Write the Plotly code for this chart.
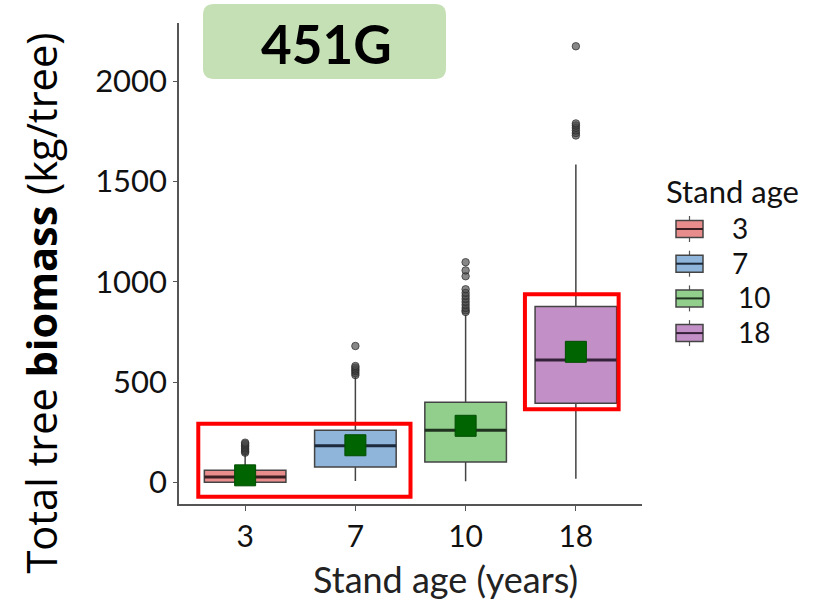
import plotly.graph_objects as go

# Stand ages and per-group box statistics (kg/tree)
categories = ["3", "7", "10", "18"]
q1 = [0, 77, 101, 394]
median = [27, 182, 260, 610]
q3 = [60, 260, 400, 877]
lower_fence = [0, 7, 5, 18]
upper_fence = [140, 525, 835, 1585]
means = [35, 185, 282, 651]
outliers = [
    [148, 155, 162, 170, 178, 185, 192, 198],
    [535, 545, 555, 563, 572, 580, 680],
    [850, 858, 870, 885, 900, 915, 930, 945, 963, 1028, 1057, 1098],
    [1730, 1742, 1755, 1768, 1780, 1790, 2175],
]
fills = ["#e88c8c", "#8fb5da", "#92cf8d", "#c290c7"]
median_colors = ["#3a1f22", "#1d2a3c", "#1f321f", "#35203a"]

# Highlighted groups: (x0, x1, y0, y1) in axis units
highlights = [(-0.425, 1.50, -72, 292), (2.538, 3.388, 364, 938)]

BOX_W = 0.74
pos = list(range(len(categories)))

fig = go.Figure()

for i, cat in enumerate(categories):
    fig.add_trace(go.Box(
        x=[pos[i]], q1=[q1[i]], median=[median[i]], q3=[q3[i]],
        lowerfence=[lower_fence[i]], upperfence=[upper_fence[i]],
        name=cat, width=BOX_W, whiskerwidth=0, boxpoints=False,
        fillcolor=fills[i], line=dict(color="#444444", width=1.5),
        showlegend=False,
    ))

# thicker median bars
for i in pos:
    fig.add_trace(go.Scatter(
        x=[pos[i] - BOX_W / 2, pos[i] + BOX_W / 2], y=[median[i], median[i]],
        mode="lines", line=dict(color=median_colors[i], width=3),
        showlegend=False, hoverinfo="skip",
    ))

# outlying trees
for i in pos:
    fig.add_trace(go.Scatter(
        x=[pos[i]] * len(outliers[i]), y=outliers[i], mode="markers",
        marker=dict(size=7.5, color="rgba(70,70,70,0.65)",
                    line=dict(color="rgba(40,40,40,0.7)", width=1)),
        showlegend=False, hoverinfo="skip",
    ))

# group means
fig.add_trace(go.Scatter(
    x=pos, y=means, mode="markers",
    marker=dict(symbol="square", size=21, color="#006400",
                line=dict(color="#004d00", width=1)),
    showlegend=False,
))

for x0, x1, y0, y1 in highlights:
    fig.add_shape(type="rect", xref="x", yref="y", x0=x0, x1=x1, y0=y0, y1=y1,
                  line=dict(color="#ff0000", width=4), layer="above")

# pixel -> paper helpers for decorations outside the data area
L, T, W, H = 179, 23, 463, 481
def px(x):
    return (x - L) / W
def py(y):
    return (T + H - y) / H

# rounded label panel above the plot
bx0, bx1, by0, by1 = 203, 446, 4, 79
r = 11
path = (f"M {px(bx0 + r)} {py(by0)} L {px(bx1 - r)} {py(by0)} "
        f"Q {px(bx1)} {py(by0)} {px(bx1)} {py(by0 + r)} "
        f"L {px(bx1)} {py(by1 - r)} Q {px(bx1)} {py(by1)} {px(bx1 - r)} {py(by1)} "
        f"L {px(bx0 + r)} {py(by1)} Q {px(bx0)} {py(by1)} {px(bx0)} {py(by1 - r)} "
        f"L {px(bx0)} {py(by0 + r)} Q {px(bx0)} {py(by0)} {px(bx0 + r)} {py(by0)} Z")
fig.add_shape(type="path", xref="paper", yref="paper", path=path,
              fillcolor="#c5e0b4", line=dict(width=0), layer="above")
fig.add_annotation(xref="paper", yref="paper", x=px(326), y=py(43),
                   xanchor="center", yanchor="middle",
                   text="<b>451G</b>", showarrow=False,
                   font=dict(family="Lato", size=53, color="#000000"))

# axis titles
fig.add_annotation(xref="paper", yref="paper", x=px(445), y=py(579),
                   xanchor="center", yanchor="middle",
                   text="Stand age (years)", showarrow=False,
                   font=dict(family="Lato", size=36, color="#222222"))
fig.add_annotation(xref="paper", yref="paper", x=px(40), y=py(303.5),
                   xanchor="center", yanchor="middle",
                   text="Total tree <b>biomass</b> (kg/tree)", textangle=-90,
                   showarrow=False,
                   font=dict(family="Open Sans", size=41.5, color="#000000"))

# legend: box keys with labels
fig.add_annotation(xref="paper", yref="paper", x=px(664), y=py(191),
                   xanchor="left", yanchor="middle", text="Stand age",
                   showarrow=False,
                   font=dict(family="Lato", size=31, color="#111111"))
key_x0, key_x1 = 676, 703
key_xc = (key_x0 + key_x1) / 2
for i, cat in enumerate(categories):
    c = 229 + i * 34.7
    fig.add_shape(type="line", xref="paper", yref="paper",
                  x0=px(key_xc), x1=px(key_xc), y0=py(c - 13), y1=py(c + 13),
                  line=dict(color="#555555", width=1.2))
    fig.add_shape(type="rect", xref="paper", yref="paper",
                  x0=px(key_x0), x1=px(key_x1), y0=py(c - 8.5), y1=py(c + 8.5),
                  fillcolor=fills[i], line=dict(color="#444444", width=1.5))
    fig.add_shape(type="line", xref="paper", yref="paper",
                  x0=px(key_x0), x1=px(key_x1), y0=py(c), y1=py(c),
                  line=dict(color=median_colors[i], width=2))
    fig.add_annotation(xref="paper", yref="paper", x=px(730 if i < 2 else 736),
                       y=py(c - 1), xanchor="left", yanchor="middle", text=cat,
                       showarrow=False,
                       font=dict(family="Lato", size=28, color="#111111"))

fig.update_layout(
    width=813, height=609,
    margin=dict(l=L, r=813 - L - W, t=T, b=609 - T - H),
    plot_bgcolor="white", paper_bgcolor="white",
    boxmode="overlay", showlegend=False,
    font=dict(family="Lato", color="#111111"),
)
fig.update_xaxes(
    range=[-0.6, 3.6], tickvals=pos, ticktext=categories,
    showline=True, linecolor="#555555", linewidth=1.5,
    ticks="outside", ticklen=5, tickcolor="#555555", tickwidth=1,
    showgrid=False, zeroline=False,
    tickfont=dict(family="Lato", size=30, color="#111111"),
)
fig.update_yaxes(
    range=[-108, 2291], tickvals=[0, 500, 1000, 1500, 2000],
    showline=True, linecolor="#555555", linewidth=1.5,
    ticks="outside", ticklen=4, tickcolor="#555555", tickwidth=1,
    showgrid=False, zeroline=False,
    tickfont=dict(family="Lato", size=31, color="#111111"),
)

fig.write_html("out.html")
